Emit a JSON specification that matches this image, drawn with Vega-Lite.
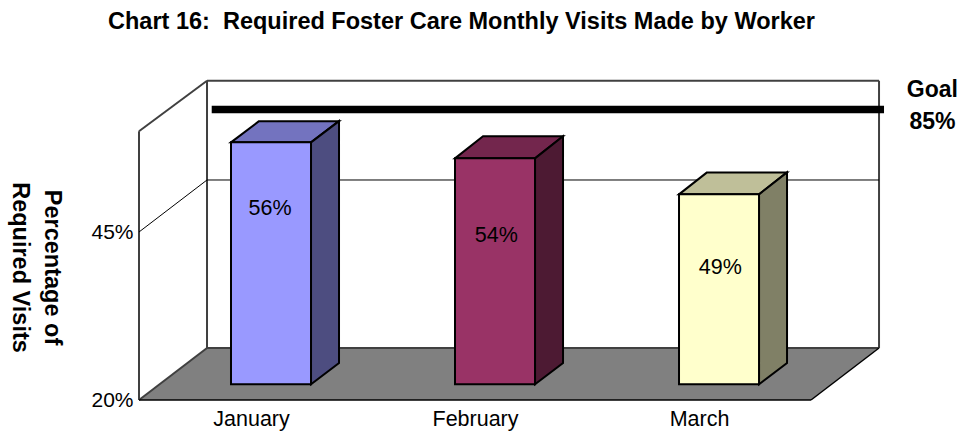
{
"$schema":"https://vega.github.io/schema/vega-lite/v6.json",
"width":823,"height":320,
"autosize":{"type":"none"},
"padding":{"left":139,"top":80,"right":0,"bottom":32},
"background":"white",
"config":{"view":{"stroke":null},"font":"Liberation Sans"},
"title":{"text":"Chart 16:\u00a0 Required Foster Care Monthly Visits Made by Worker","font":"Liberation Sans","fontSize":23.5,"fontWeight":"bold","color":"black","anchor":"middle","dx":-89,"offset":46},
"datasets":{
"planes":[
{"part":"floor","y":20,"x":0,"x2":3},
{"part":"floor","y":27.74,"x":0.3036,"x2":3.3036}
],
"tops":[
{"part":"January top","y":58.34,"x":0.4107,"x2":0.7679},
{"part":"January top","y":61.5,"x":0.5357,"x2":0.8929},
{"part":"February top","y":55.96,"x":1.4107,"x2":1.7679},
{"part":"February top","y":59.25,"x":1.5357,"x2":1.8929},
{"part":"March top","y":50.6,"x":2.4107,"x2":2.7679},
{"part":"March top","y":53.87,"x":2.5357,"x2":2.8929}
],
"sides":[
{"part":"January side","x":0.7679,"y":58.34,"y2":22.34},
{"part":"January side","x":0.8929,"y":61.5,"y2":25.5},
{"part":"February side","x":1.7679,"y":55.96,"y2":22.34},
{"part":"February side","x":1.8929,"y":59.25,"y2":25.5},
{"part":"March side","x":2.7679,"y":50.6,"y2":22.34},
{"part":"March side","x":2.8929,"y":53.87,"y2":25.5}
],
"fronts":[
{"part":"January front","month":"January","label":"56%","x":0.4107,"x2":0.7679,"y":58.34,"y2":22.34,"tx":0.585,"ty":48.4},
{"part":"February front","month":"February","label":"54%","x":1.4107,"x2":1.7679,"y":55.96,"y2":22.34,"tx":1.595,"ty":44.4},
{"part":"March front","month":"March","label":"49%","x":2.4107,"x2":2.7679,"y":50.6,"y2":22.34,"tx":2.595,"ty":39.65}
],
"wallLines":[
{"x":0,"x2":0,"y":20,"y2":60},
{"x":0,"x2":0.3036,"y":60,"y2":67.51},
{"x":0.3036,"x2":0.3036,"y":27.74,"y2":67.51},
{"x":0.3036,"x2":3.3036,"y":67.51,"y2":67.51},
{"x":3.3036,"x2":3.3036,"y":27.74,"y2":67.51},
{"x":0,"x2":0.3036,"y":20,"y2":27.74},
{"x":0.3036,"x2":3.3036,"y":27.74,"y2":27.74}
],
"floorEdges":[
{"x":0,"x2":3,"y":20,"y2":20},
{"x":3,"x2":3.3036,"y":20,"y2":27.74}
],
"grid":[
{"x":0,"x2":0.3036,"y":45,"y2":52.74},
{"x":0.3036,"x2":3.3036,"y":52.74,"y2":52.74}
],
"goal":[{"x":0.3246,"x2":3.3259,"y":63.23}],
"goalText":[
{"text":"Goal","x":3.542,"y":66.1},
{"text":"85%","x":3.542,"y":61.3}
]
},
"encoding":{
"x":{"field":"x","type":"quantitative","scale":{"domain":[0,3.674],"nice":false,"zero":false},
"axis":{"title":null,"values":[0.5,1.5,2.5],"labelExpr":"['January','February','March'][floor(datum.value)]","domain":false,"ticks":false,"grid":false,"labelFontSize":21.5,"labelFont":"Liberation Sans","labelColor":"black","labelPadding":8,"labelFlush":false}},
"y":{"field":"y","type":"quantitative","scale":{"domain":[20,67.62],"nice":false,"zero":false},
"axis":{"title":["Percentage of","Required Visits"],"titleAngle":90,"titleX":-88,"titleY":187,"titleFontSize":23.5,"titleFont":"Liberation Sans","titleFontWeight":"bold","titleColor":"black","titleLineHeight":32,"titleAlign":"center","titleBaseline":"middle","values":[20,45],"labelExpr":"datum.value + '%'","domain":false,"ticks":false,"grid":false,"labelFontSize":21,"labelFont":"Liberation Sans","labelColor":"black","labelPadding":6}}
},
"layer":[
{"data":{"name":"planes"},"mark":{"type":"area","orient":"horizontal","fill":"#808080"},
 "encoding":{"x":{"field":"x","type":"quantitative","stack":null},"x2":{"field":"x2"},"y":{"field":"y","type":"quantitative"}}},
{"data":{"name":"wallLines"},"mark":{"type":"rule","color":"#404040","strokeWidth":2},
 "encoding":{"x2":{"field":"x2"},"y2":{"field":"y2"}}},
{"data":{"name":"floorEdges"},"mark":{"type":"rule","color":"black","strokeWidth":1.5},
 "encoding":{"x2":{"field":"x2"},"y2":{"field":"y2"}}},
{"data":{"name":"grid"},"mark":{"type":"rule","color":"black","strokeWidth":1},
 "encoding":{"x2":{"field":"x2"},"y2":{"field":"y2"}}},
{"data":{"name":"tops"},"mark":{"type":"area","orient":"horizontal","stroke":"black","strokeWidth":2},
 "encoding":{"x":{"field":"x","type":"quantitative","stack":null},"x2":{"field":"x2"},"y":{"field":"y","type":"quantitative"},
  "color":{"field":"part","type":"nominal","legend":null,"scale":{"domain":["January top","February top","March top"],"range":["#7373BF","#73264D","#BFBF99"]}}}},
{"data":{"name":"sides"},"mark":{"type":"area","orient":"vertical","stroke":"black","strokeWidth":2},
 "encoding":{"y":{"field":"y","type":"quantitative","stack":null},"y2":{"field":"y2"},"x":{"field":"x","type":"quantitative"},
  "color":{"field":"part","type":"nominal","legend":null,"scale":{"domain":["January side","February side","March side"],"range":["#4D4D80","#4D1A33","#808066"]}}}},
{"data":{"name":"fronts"},"mark":{"type":"rect","stroke":"black","strokeWidth":2},
 "encoding":{"x2":{"field":"x2"},"y2":{"field":"y2"},
  "fill":{"field":"part","type":"nominal","legend":null,"scale":{"domain":["January front","February front","March front"],"range":["#9999FF","#993366","#FFFFCC"]}}}},
{"data":{"name":"fronts"},"mark":{"type":"text","fontSize":21.5,"font":"Liberation Sans","color":"black"},
 "encoding":{"x":{"field":"tx","type":"quantitative"},"y":{"field":"ty","type":"quantitative"},"text":{"field":"label"}}},
{"data":{"name":"goal"},"mark":{"type":"rule","color":"black","strokeWidth":7.5},
 "encoding":{"x2":{"field":"x2"}}},
{"data":{"name":"goalText"},"mark":{"type":"text","fontSize":23,"fontWeight":"bold","font":"Liberation Sans","color":"black"},
 "encoding":{"text":{"field":"text"}}}
],
"resolve":{"scale":{"color":"independent","fill":"independent"}}
}
